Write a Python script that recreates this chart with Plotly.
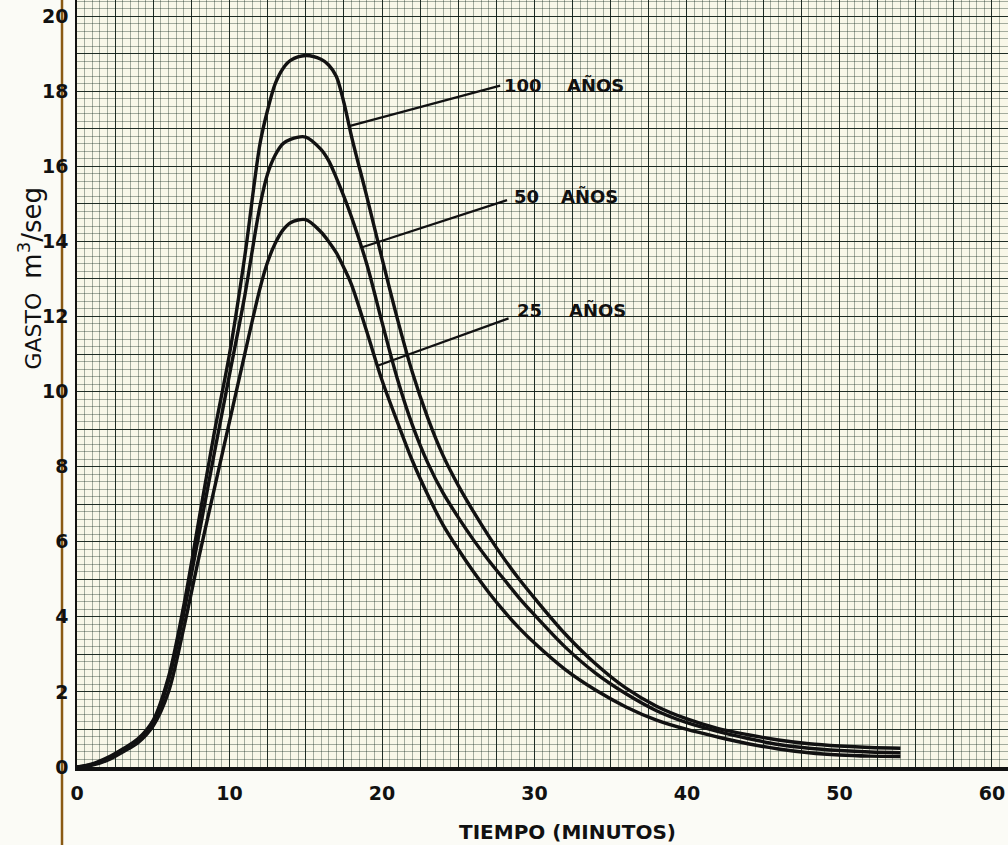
import numpy as np
import plotly.graph_objects as go

# ---------------- data ----------------
tiempo = [0, 1, 2, 3, 4, 5, 6, 7, 8, 9, 10, 11, 12, 12.5, 13, 13.5, 14, 15, 16, 16.5,
          17, 17.5, 18, 19, 20, 21, 22, 23, 24, 25, 26, 27, 28, 29, 30, 32, 34, 36,
          38, 40, 42, 44, 46, 48, 50, 52, 54]

gasto_100 = [0, 0.08, 0.25, 0.48, 0.75, 1.25, 2.4, 4.3, 6.6, 8.9, 11.0, 13.6, 16.6,
             17.5, 18.2, 18.6, 18.82, 18.95, 18.85, 18.7, 18.4, 17.7, 16.8, 15.2, 13.55,
             11.95, 10.5, 9.3, 8.3, 7.5, 6.8, 6.15, 5.55, 5.0, 4.5, 3.55, 2.75, 2.1,
             1.62, 1.28, 1.03, 0.86, 0.72, 0.62, 0.56, 0.52, 0.5]

gasto_50 = [0, 0.07, 0.22, 0.45, 0.7, 1.18, 2.3, 4.1, 6.2, 8.35, 10.45, 12.55, 14.95,
            15.8, 16.3, 16.6, 16.72, 16.78, 16.45, 16.15, 15.7, 15.2, 14.65, 13.4, 11.85,
            10.35, 9.1, 8.1, 7.3, 6.65, 6.05, 5.5, 5.0, 4.5, 4.05, 3.2, 2.5, 1.95,
            1.5, 1.18, 0.95, 0.76, 0.6, 0.5, 0.44, 0.4, 0.38]

gasto_25 = [0, 0.05, 0.18, 0.4, 0.65, 1.1, 2.0, 3.7, 5.6, 7.4, 9.2, 11.0, 12.75, 13.45,
            13.95, 14.3, 14.5, 14.58, 14.25, 14.0, 13.7, 13.3, 12.85, 11.6, 10.3, 9.2,
            8.15, 7.25, 6.45, 5.8, 5.2, 4.65, 4.15, 3.7, 3.3, 2.6, 2.05, 1.6, 1.25, 1.0,
            0.8, 0.62, 0.48, 0.38, 0.32, 0.29, 0.28]

periodos = ["100", "50", "25"]
palabra = "AÑOS"

x_tickvals = [0, 2.5, 5, 7.5, 10, 12.5, 15, 17.5, 20, 22.5, 25, 27.5, 30, 32.5, 35,
              37.5, 40, 42.5, 45, 47.5, 50, 52.5, 55, 57.5, 60]
x_ticktext = ["0", "", "", "", "10", "", "", "", "20", "", "", "", "30", "", "", "",
              "40", "", "", "", "50", "", "", "", "60"]
y_tickvals = [0, 1, 2, 3, 4, 5, 6, 7, 8, 9, 10, 11, 12, 13, 14, 15, 16, 17, 18, 19, 20]
y_ticktext = ["0", "", "2", "", "4", "", "6", "", "8", "", "10", "", "12", "", "14",
              "", "16", "", "18", "", "20"]

titulo_x = "TIEMPO (MINUTOS)"
titulo_y = "GASTO  <span style='font-size:26px'>m<sup>3</sup>/seg</span>"

# ---------------- styling / layout ----------------
FONT = "DejaVu Sans"
INK = "#111111"

fig = go.Figure()

series = [gasto_100, gasto_50, gasto_25]
for serie in series:
    fig.add_trace(go.Scatter(
        x=tiempo, y=serie, mode="lines",
        line=dict(color=INK, width=3.4, shape="spline", smoothing=0.9),
        hoverinfo="skip", showlegend=False))

# leader lines: start on each curve, end at its label
leader_start_x = [17.85, 18.65, 19.7]
leader_end = [(27.75, 18.15), (28.2, 15.1), (28.3, 11.95)]
num_pos = [(27.85, 18.16), (28.5, 15.2), (28.7, 12.16)]
word_pos = [(32.0, 18.16), (31.6, 15.2), (32.1, 12.16)]

for serie, xs, (xe, ye) in zip(series, leader_start_x, leader_end):
    ys = float(np.interp(xs, tiempo, serie))
    fig.add_trace(go.Scatter(
        x=[xs, xe], y=[ys, ye], mode="lines",
        line=dict(color=INK, width=2.2),
        hoverinfo="skip", showlegend=False))

annotations = []
for p, (xn, yn), (xw, yw) in zip(periodos, num_pos, word_pos):
    annotations.append(dict(x=xn, y=yn, xref="x", yref="y", text=p, showarrow=False,
                            xanchor="left", yanchor="middle",
                            font=dict(family=FONT, size=18, color=INK, weight="bold")))
    annotations.append(dict(x=xw, y=yw, xref="x", yref="y", text=palabra, showarrow=False,
                            xanchor="left", yanchor="middle",
                            font=dict(family=FONT, size=18, color=INK, weight="bold")))

annotations.append(dict(x=0.527, y=-0.085, xref="paper", yref="paper", text=titulo_x,
                        showarrow=False, xanchor="center", yanchor="middle",
                        font=dict(family=FONT, size=20, color=INK, weight="bold")))
annotations.append(dict(x=-0.05, y=0.6375, xref="paper", yref="paper", text=titulo_y,
                        showarrow=False, xanchor="center", yanchor="middle", textangle=-90,
                        font=dict(family=FONT, size=22, color=INK)))

fig.update_layout(
    width=1008, height=845,
    margin=dict(l=77, r=0, t=0, b=78),
    paper_bgcolor="#fbfbf6",
    plot_bgcolor="#f8f7e8",
    annotations=annotations,
    shapes=[dict(type="line", xref="paper", yref="paper", x0=-0.0161, x1=-0.0161,
                 y0=-0.11, y1=1.0, line=dict(color="#8a5a14", width=2.5), layer="below")],
)

fig.update_xaxes(
    range=[0, 61.05], tickvals=x_tickvals, ticktext=x_ticktext,
    showgrid=True, gridcolor="rgba(8,22,16,0.85)", gridwidth=1.4,
    minor=dict(dtick=0.5, tick0=0, showgrid=True, gridcolor="rgba(15,35,25,0.36)", gridwidth=1),
    showline=True, linecolor=INK, linewidth=3.5,
    zeroline=False, ticks="", ticklabelstandoff=6,
    tickfont=dict(family=FONT, size=19, color=INK, weight="bold"),
)
fig.update_yaxes(
    range=[0, 20.43], tickvals=y_tickvals, ticktext=y_ticktext,
    showgrid=True, gridcolor="rgba(8,22,16,0.85)", gridwidth=1.4,
    minor=dict(dtick=0.2, tick0=0, showgrid=True, gridcolor="rgba(15,35,25,0.36)", gridwidth=1),
    showline=True, linecolor=INK, linewidth=1.5,
    zeroline=False, ticks="", ticklabelstandoff=3,
    tickfont=dict(family=FONT, size=19, color=INK, weight="bold"),
)

fig.write_html(
    "out.html",
    config={"displayModeBar": False},
    post_script="document.body.style.margin='0';document.body.style.overflow='hidden';",
)
